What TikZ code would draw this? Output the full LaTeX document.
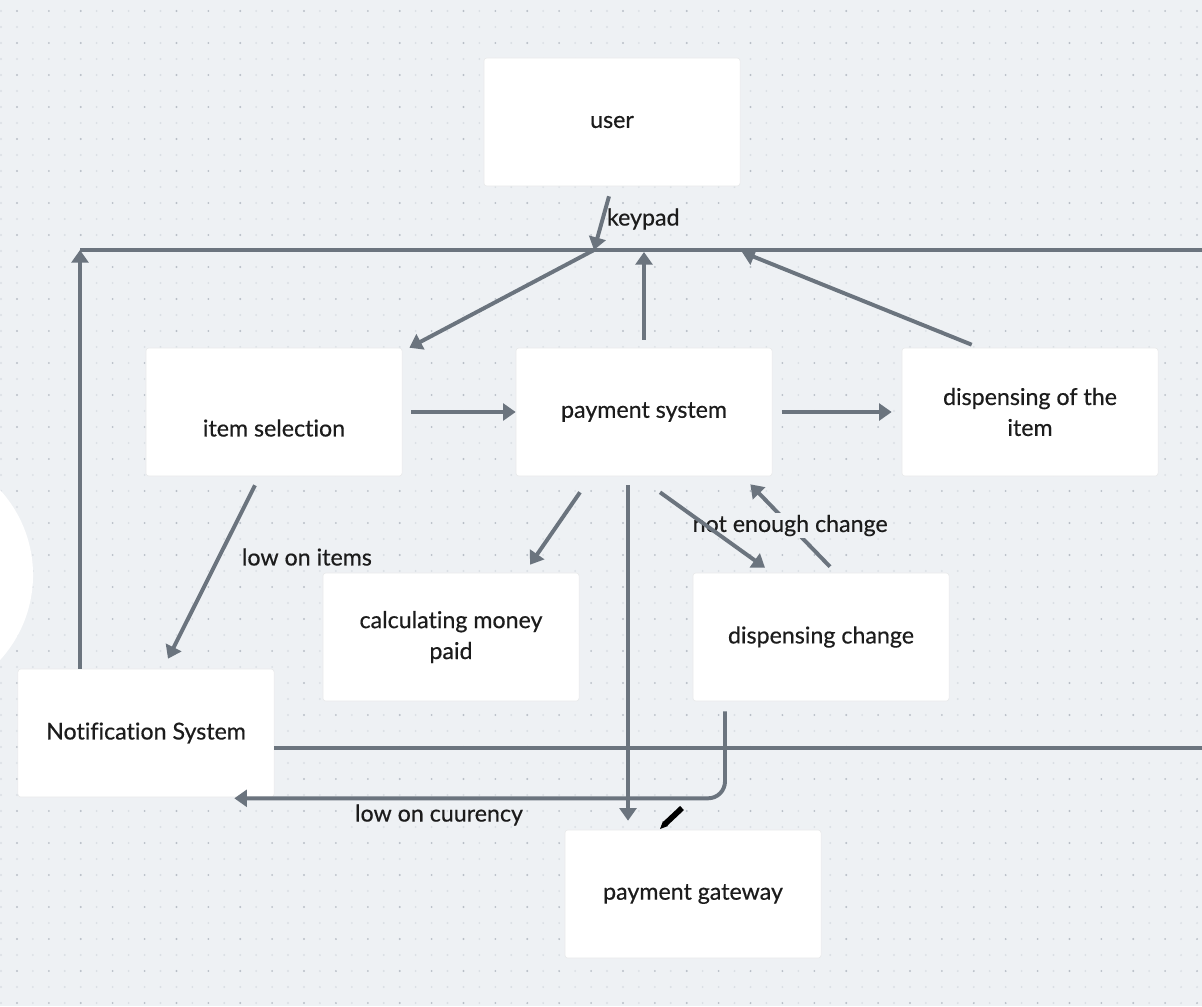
\documentclass[tikz,border=0pt]{standalone}
\usepackage{fontspec}
\setmainfont{Lato}[Ligatures=NoCommon, FakeBold=0.5]
\usetikzlibrary{arrows.meta}
\usetikzlibrary{calc}
\definecolor{canvas}{HTML}{EEF1F4}
\definecolor{griddot}{HTML}{B9BFC7}
\definecolor{faintdot}{HTML}{DADFE4}
\definecolor{wire}{HTML}{6B747E}
\definecolor{ink}{HTML}{1C1C1C}
\tikzset{
  sys_box/.style = {rectangle, fill=white, draw=canvas!80!gray!60,
    line width=0.4pt, rounded corners=2pt, inner sep=0pt,
    minimum width=6.4cm, minimum height=3.2cm},% white block
  sys_text/.style = {font=\fontsize{16.5}{22}\selectfont, text=ink,
    align=center},% block caption
  flow/.style = {draw=wire, line width=2.8pt},% plain wire
  flow_arrow/.style = {flow, -{Triangle[length=9pt,width=12pt]}},% wire with head
  flow_label/.style = {sys_text, fill=canvas, inner sep=1pt},% label on a wire
  dot_row/.style = {line width=1.5pt, line cap=round,
    dash pattern=on 0pt off 22.68pt}% one row of grid dots
}

\begin{document}
\begin{tikzpicture}[x=0.025cm, y=-0.025cm]
    \useasboundingbox (0,0) rectangle (1202,1006);
    \fill[canvas] (0,0) rectangle (1202,1006);
    \foreach \y in {11,43,...,1006}{
      \draw[dot_row, faintdot] (1,\y+16) -- (1202,\y+16);
      \draw[dot_row, faintdot] (1,\y) -- (1202,\y);
      \draw[dot_row, griddot] (17,\y) -- (1202,\y);
      \draw[dot_row, faintdot] (17,\y+16) -- (1202,\y+16);
    }
    \fill[white] (-93,575) circle (3.15cm);

    \node [sys_box, sys_text] (user) at (612,122) {user};
    \node [sys_box] (sel) at (274,412) {};
    \node [sys_text] (sel_txt) at (274,428) {item selection};
    \node [sys_box, sys_text] (pay) at (644,412) {payment system};
    \node [sys_box, sys_text] (disp) at (1030,412) {dispensing of the\\item};
    \node [sys_box, sys_text] (calc) at (451,637) {calculating money\\paid};
    \node [sys_box, sys_text] (change) at (821,637) {dispensing change};
    \node [sys_box, sys_text] (notif) at (146,733) {Notification System};
    \node [sys_box, sys_text] (gate) at (693,894) {payment gateway};

    \coordinate (bus_l) at (80,250);
    \coordinate (bus_r) at (1202,250);
    \coordinate (bus_key) at (594,250);
    \coordinate (bus_pay) at (644,252);
    \coordinate (bus_disp) at (742,252);
    \coordinate (edge_r) at (1202,748);

    % bus along the top
    \draw[flow] (bus_l) -- (bus_r);
    \draw[flow_arrow] (notif.north -| bus_l) -- (bus_l);
    \draw[flow_arrow] ($(user.south)+(-3,10)$) -- (bus_key);
    \node [sys_text, right] (lbl_key) at (602,219) {keypad};
    \draw[flow_arrow] (bus_key) -- ($(sel.north east)+(7,0)$);
    \draw[flow_arrow] ($(pay.north)+(0,-8)$) -- (bus_pay);
    \draw[flow_arrow] ($(disp.north west)+(70,-3)$) -- (bus_disp);

    % middle row
    \draw[flow_arrow] ($(sel.east)+(9,0)$) -- (pay.west);
    \draw[flow_arrow] ($(pay.east)+(10,0)$) -- ($(disp.west)+(-10,0)$);
    \draw[flow_arrow] ($(pay.south)+(-64,16)$) -- ($(calc.north)+(79,-8)$);
    \draw[flow_arrow] ($(change.north)+(9,-6)$) -- ($(pay.south east)+(-22,8)$)
      node [flow_label, midway] (lbl_change) {not enough change};
    \draw[flow_arrow] ($(pay.south)+(16,16)$) -- ($(change.north)+(-56,-5)$);
    \draw[flow_arrow] ($(pay.south)+(-16,9)$) -- ($(gate.north)+(-65,-9)$);

    % left side
    \draw[flow_arrow] ($(sel.south)+(-19,9)$) -- ($(notif.north)+(22,-10)$);
    \node [sys_text, right] (lbl_items) at (237,557) {low on items};
    \draw[flow] ($(notif.east)+(0,15)$) -- (edge_r);
    \draw[flow_arrow, rounded corners=12pt] ($(change.south)+(-96,10)$)
      |- ($(notif.south east)+(-40,1)$);
    \node [sys_text] (lbl_cur) at (439,815) {low on cuurency};

    % pen cursor
    \draw[black, line width=4pt] (665,824) -- (682,808);
    \fill[black] (660,829) -- (663,821) -- (668,826) -- cycle;
\end{tikzpicture}
\end{document}
